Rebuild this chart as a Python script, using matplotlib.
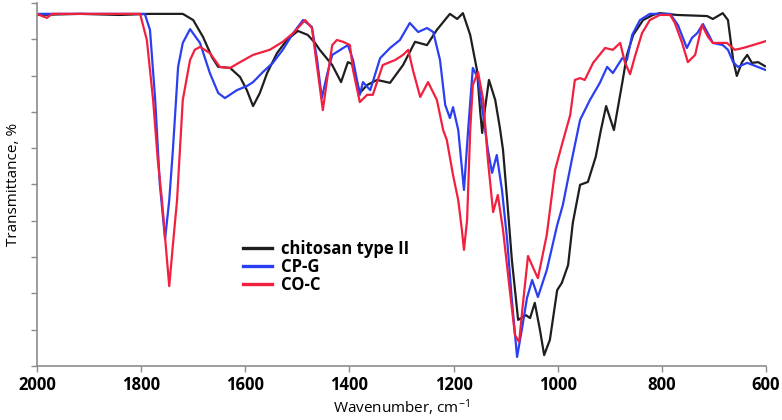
import matplotlib
matplotlib.use("Agg")
import matplotlib.pyplot as plt
from matplotlib.lines import Line2D

plt.rcParams["font.family"] = ["Open Sans", "DejaVu Sans"]
plt.rcParams["mathtext.default"] = "regular"

chitosan_wn = [2000, 1917, 1841, 1783, 1720, 1700, 1681, 1664, 1652, 1629, 1610,
               1597, 1585, 1572, 1558, 1539, 1520, 1499, 1480, 1466, 1457, 1433,
               1416, 1403, 1395, 1380, 1366, 1347, 1322, 1297, 1274, 1251, 1232,
               1207, 1193, 1182, 1168, 1155, 1149, 1145, 1140, 1132, 1120, 1111,
               1105, 1097, 1088, 1076, 1061, 1053, 1044, 1034, 1026, 1015, 1001,
               992, 980, 971, 957, 942, 927, 917, 907, 892, 876, 867, 855, 836,
               817, 804, 771, 713, 702, 683, 673, 663, 656, 646, 636, 627, 615,
               602]
chitosan_t = [96.7, 97.0, 96.7, 97.0, 97.0, 95.3, 90.6, 85.1, 82.4, 82.1, 79.6,
              76.0, 71.6, 75.2, 80.7, 86.2, 89.8, 92.3, 91.2, 89.0, 87.1, 82.9,
              78.2, 83.7, 83.2, 75.2, 77.4, 78.8, 78.0, 82.9, 89.3, 88.4, 92.6,
              97.0, 95.6, 97.2, 91.2, 81.5, 70.5, 64.2, 70.5, 78.8, 73.3, 65.6,
              59.5, 45.7, 29.2, 12.7, 14.0, 13.2, 17.4, 9.9, 3.0, 7.2, 20.9,
              22.9, 27.8, 39.4, 49.9, 50.7, 57.6, 65.0, 71.6, 65.0, 78.0, 85.7,
              91.2, 95.3, 96.7, 97.2, 96.7, 96.4, 95.6, 97.2, 95.3, 84.3, 79.9,
              83.7, 85.7, 83.5, 83.7, 82.6]

cpg_wn = [2000, 1879, 1793, 1783, 1773, 1764, 1754, 1746, 1739, 1729, 1720,
          1706, 1687, 1668, 1652, 1639, 1616, 1597, 1585, 1566, 1547, 1528,
          1508, 1489, 1472, 1462, 1453, 1443, 1433, 1424, 1403, 1393, 1380,
          1374, 1360, 1341, 1322, 1303, 1284, 1268, 1251, 1239, 1226, 1216,
          1207, 1201, 1191, 1180, 1172, 1163, 1153, 1143, 1134, 1126, 1117,
          1107, 1097, 1088, 1078, 1069, 1059, 1049, 1038, 1021, 1001, 990, 973,
          957, 938, 919, 905, 894, 876, 867, 857, 842, 823, 784, 769, 752, 742,
          732, 721, 707, 702, 683, 673, 663, 654, 636, 625, 600]
cpg_t = [97.0, 97.0, 97.0, 92.6, 73.3, 49.9, 35.0, 45.7, 59.5, 82.4, 89.0,
         92.8, 89.0, 80.7, 75.2, 73.8, 76.0, 77.1, 78.2, 81.0, 83.5, 87.1,
         91.7, 95.3, 93.4, 84.3, 73.8, 80.2, 85.7, 86.5, 88.4, 84.3, 74.7,
         78.2, 76.0, 84.8, 87.6, 89.8, 94.5, 92.0, 93.1, 92.0, 84.3, 71.9,
         68.3, 71.3, 65.0, 48.5, 65.0, 82.1, 79.3, 69.1, 59.5, 53.2, 58.1,
         48.5, 34.7, 18.2, 2.5, 9.9, 18.7, 23.7, 19.0, 26.4, 38.8, 44.4, 56.7,
         67.8, 73.3, 78.0, 82.4, 80.7, 84.8, 84.3, 91.2, 95.3, 97.0, 97.0,
         93.9, 87.6, 90.4, 91.7, 94.2, 90.4, 89.0, 88.4, 87.1, 83.7, 82.4,
         83.5, 82.9, 81.5]

coc_wn = [2000, 1990, 1981, 1971, 1879, 1802, 1789, 1777, 1768, 1760, 1752,
          1746, 1739, 1731, 1720, 1706, 1697, 1687, 1668, 1649, 1629, 1610,
          1585, 1553, 1528, 1508, 1485, 1472, 1460, 1451, 1443, 1433, 1424,
          1412, 1399, 1393, 1380, 1366, 1355, 1336, 1312, 1297, 1287, 1278,
          1264, 1249, 1232, 1220, 1213, 1201, 1191, 1184, 1180, 1174, 1168,
          1163, 1153, 1143, 1134, 1124, 1115, 1105, 1092, 1082, 1074, 1067,
          1057, 1047, 1038, 1021, 1005, 992, 976, 967, 957, 948, 932, 909, 894,
          880, 871, 861, 852, 838, 823, 804, 784, 775, 761, 750, 736, 723, 711,
          702, 675, 660, 644, 625, 600]
coc_t = [97.0, 96.4, 95.9, 97.0, 97.0, 97.0, 89.8, 73.3, 56.7, 45.7, 32.0,
         22.0, 33.3, 45.7, 73.3, 84.3, 87.1, 87.9, 86.2, 82.4, 82.1, 83.7,
         85.7, 87.1, 89.3, 91.7, 95.3, 93.1, 80.2, 70.5, 78.8, 88.4, 89.8,
         89.3, 88.4, 81.5, 72.7, 74.7, 74.7, 82.9, 84.3, 85.7, 87.1, 81.5,
         74.1, 78.2, 73.3, 65.0, 62.3, 52.6, 45.7, 37.5, 32.0, 40.2, 65.0,
         77.4, 81.0, 73.3, 56.7, 42.4, 47.1, 37.5, 20.9, 8.5, 6.6, 16.8, 30.3,
         27.0, 24.2, 36.1, 54.0, 60.9, 69.1, 78.8, 79.3, 78.8, 83.5, 87.6,
         87.1, 89.0, 83.7, 80.4, 85.1, 91.7, 95.3, 96.7, 96.7, 94.5, 89.0,
         83.7, 85.7, 93.9, 90.6, 89.0, 89.0, 87.1, 87.6, 88.4, 89.5]

labels = ["chitosan type II", "CP-G", "CO-C"]
colors = ["#1e1e1e", "#2a3ff2", "#f2203f"]
xticks = [2000, 1800, 1600, 1400, 1200, 1000, 800, 600]

fig = plt.figure(figsize=(7.82, 4.2), dpi=100)
ax = fig.add_axes([0.0473, 0.1286, 0.9322, 0.8643])

series = [(chitosan_wn, chitosan_t), (cpg_wn, cpg_t), (coc_wn, coc_t)]
for (wn, t), c in zip(series, colors):
    ax.plot(wn, t, color=c, lw=1.6, solid_joinstyle="round")

ax.set_xlim(2000, 600)
ax.set_ylim(0, 100)
ax.set_xticks(xticks)
ax.set_xticklabels([str(v) for v in xticks], fontsize=12, fontweight="bold")
ax.set_yticks(range(0, 101, 10))
ax.set_yticklabels([])
ax.tick_params(axis="both", direction="out", length=4, color="#8c8c8c", width=1)
for s in ("top", "right"):
    ax.spines[s].set_visible(False)
for s in ("left", "bottom"):
    ax.spines[s].set_color("#8c8c8c")
    ax.spines[s].set_linewidth(1.2)

ax.set_xlabel("Wavenumber, cm$^{-1}$", fontsize=11, labelpad=2)
ax.set_ylabel("Transmittance, %", fontsize=11, labelpad=4)

handles = [Line2D([], [], color=c, lw=2.4) for c in colors]
ax.legend(handles, labels, loc="center left", bbox_to_anchor=(0.2826, 0.2727),
          frameon=False, borderpad=0, borderaxespad=0, handlelength=1.75,
          handletextpad=0.55, labelspacing=0.0,
          prop={"size": 12, "weight": "bold"})

fig.savefig("out.png", dpi=100)
